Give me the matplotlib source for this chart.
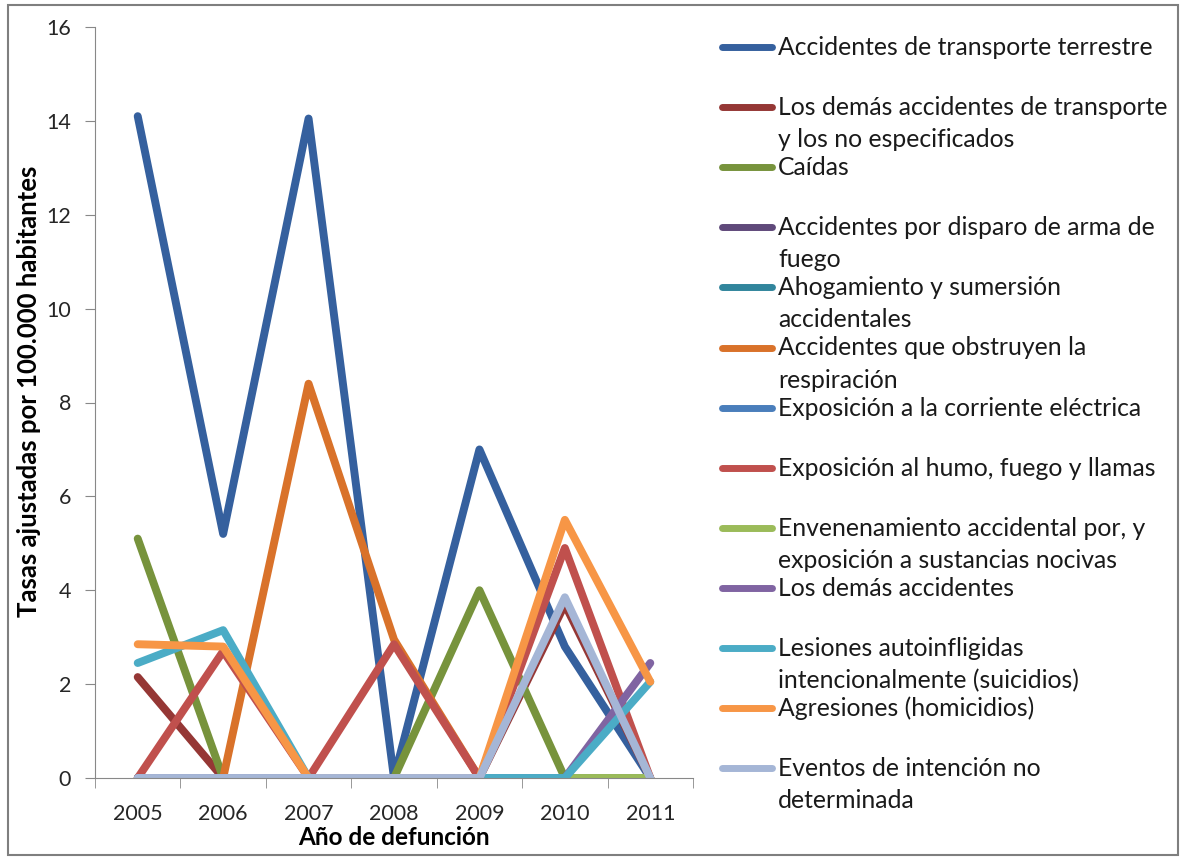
import matplotlib
matplotlib.use("Agg")
import matplotlib.pyplot as plt
from matplotlib.lines import Line2D
from matplotlib.patches import Rectangle

plt.rcParams['font.family'] = ['Lato', 'DejaVu Sans']

years = ['2005', '2006', '2007', '2008', '2009', '2010', '2011']

transporte_terrestre = [14.1, 5.2, 14.05, 0, 7.0, 2.8, 0]
demas_transporte = [2.15, 0, 0, 0, 0, 3.7, 0]
caidas = [5.1, 0, 0, 0, 4.0, 0, 0]
disparo = [0, 0, 0, 0, 0, 0, 0]
ahogamiento = [0, 0, 0, 0, 0, 0, 0]
obstruyen = [0, 0, 8.4, 2.95, 0, 0, 0]
corriente = [0, 0, 0, 0, 0, 0, 0]
humo = [0, 2.7, 0, 2.85, 0, 4.9, 0]
envenenamiento = [0, 0, 0, 0, 0, 0, 0]
demas_accidentes = [0, 0, 0, 0, 0, 0, 2.45]
lesiones = [2.45, 3.15, 0, 0, 0, 0, 2.05]
agresiones = [2.85, 2.8, 0, 0, 0, 5.5, 2.05]
eventos = [0, 0, 0, 0, 0, 3.85, 0]

labels = [
    "Accidentes de transporte terrestre",
    "Los demás accidentes de transporte\ny los no especificados",
    "Caídas",
    "Accidentes por disparo de arma de\nfuego",
    "Ahogamiento y sumersión\naccidentales",
    "Accidentes que obstruyen la\nrespiración",
    "Exposición a la corriente eléctrica",
    "Exposición al humo, fuego y llamas",
    "Envenenamiento accidental por, y\nexposición a sustancias nocivas",
    "Los demás accidentes",
    "Lesiones autoinfligidas\nintencionalmente (suicidios)",
    "Agresiones (homicidios)",
    "Eventos de intención no\ndeterminada",
]
series = [transporte_terrestre, demas_transporte, caidas, disparo, ahogamiento,
          obstruyen, corriente, humo, envenenamiento, demas_accidentes,
          lesiones, agresiones, eventos]
colors = ['#35609E', '#953735', '#77933C', '#5F497A', '#31859C', '#D9722A',
          '#4A7EBB', '#C0504D', '#9BBB59', '#8064A2', '#4BACC6', '#F79646',
          '#A5B6D6']

W, H = 1182, 859
fig = plt.figure(figsize=(W / 100, H / 100), dpi=100)
ax = fig.add_axes([95 / W, 81 / H, 598 / W, 751 / H])

x = list(range(len(years)))
for vals, col in zip(series, colors):
    ax.plot(x, vals, color=col, lw=5.7, solid_capstyle='round',
            solid_joinstyle='round')

ax.set_xlim(-0.5, len(years) - 0.5)
ax.set_ylim(0, 16)
ax.set_yticks(range(0, 17, 2))
ax.set_xticks(x)
ax.set_xticklabels(years)
ax.set_xticks([i - 0.5 for i in range(len(years) + 1)], minor=True)
ax.tick_params(axis='x', which='major', length=0, pad=19, labelsize=15.5,
               labelcolor='#262626')
ax.tick_params(axis='x', which='minor', length=7.2, color='#888888')
ax.tick_params(axis='y', length=7.2, color='#888888', pad=10, labelsize=15.5,
               labelcolor='#262626')
for s in ['top', 'right']:
    ax.spines[s].set_visible(False)
for s in ['left', 'bottom']:
    ax.spines[s].set_color('#888888')

ax.set_ylabel("Tasas ajustadas por 100.000 habitantes", fontsize=18.5,
              fontweight='bold', va='center')
ax.yaxis.set_label_coords((29 - 95) / 598, 0.515)
ax.set_xlabel("Año de defunción", fontsize=17.5, fontweight='bold', labelpad=1)

# legend laid out like the original (handle on first line of each entry)
top, step, line_gap = 47, 60.1, 32
for i, (lab, col) in enumerate(zip(labels, colors)):
    yc = top + i * step
    fig.add_artist(Line2D([722 / W, 772 / W], [1 - yc / H, 1 - yc / H],
                          color=col, lw=5, solid_capstyle='round',
                          transform=fig.transFigure))
    for k, line in enumerate(lab.split("\n")):
        yl = yc + k * line_gap + 8
        fig.text(778 / W, 1 - yl / H, line, fontsize=17.8, color='#1a1a1a',
                 va='baseline', ha='left')

fig.add_artist(Rectangle((8 / W, 4 / H), 1170 / W, 850 / H, fill=False,
                         edgecolor='#7f7f7f', lw=1.5,
                         transform=fig.transFigure))

fig.savefig("out.png", dpi=100)
